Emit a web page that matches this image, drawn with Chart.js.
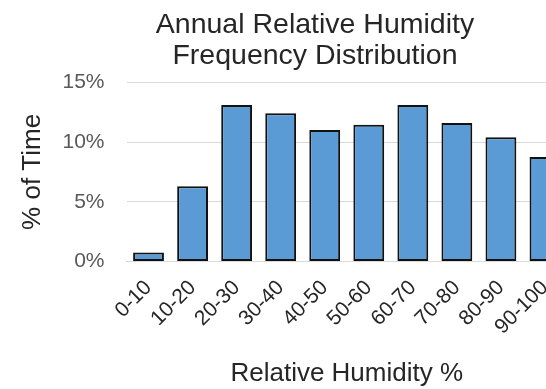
<!DOCTYPE html>
<html>
<head>
<meta charset="utf-8">
<script src="https://cdn.jsdelivr.net/npm/chart.js@4/dist/chart.umd.min.js"></script>
<style>
  html, body { margin: 0; padding: 0; background: #fff; overflow: hidden; }
  #wrap { width: 546px; height: 389px; overflow: hidden; }
</style>
</head>
<body>
<div id="wrap"><canvas id="myCanvas" width="630" height="389"></canvas></div>
<script>
const categories = ["0-10", "10-20", "20-30", "30-40", "40-50", "50-60", "60-70", "70-80", "80-90", "90-100"];
const timeShare = [0.75, 6.3, 13.1, 12.4, 11.0, 11.45, 13.1, 11.6, 10.4, 8.75];
const yTicks = [0, 5, 10, 15];

const font = "'Liberation Sans', Arial, sans-serif";

// the canvas is wider than the window, the right side is cut off like in the source image
new Chart(document.getElementById("myCanvas"), {
  type: "bar",
  data: {
    labels: categories,
    datasets: [
      {
        label: "% of Time",
        data: timeShare,
        backgroundColor: "#5b9bd5",
        borderColor: "#111",
        borderWidth: 2,
        borderSkipped: false,
        barPercentage: 0.7,
        categoryPercentage: 1,
      },
    ],
  },
  options: {
    responsive: false,
    animation: false,
    devicePixelRatio: 1,
    layout: { padding: { left: 63, right: 63, top: 0, bottom: 0 } },
    plugins: {
      legend: { display: false },
      tooltip: { enabled: false },
      title: {
        display: true,
        text: ["Annual Relative Humidity", "Frequency Distribution"],
        color: "#262626",
        font: { family: font, size: 28.5, weight: "normal", lineHeight: 1.11 },
        padding: { top: 9, bottom: 10 },
      },
    },
    scales: {
      x: {
        grid: { display: false, drawTicks: false },
        border: { display: true, color: "#d9d9d9", width: 1 },
        ticks: {
          color: "#262626",
          font: { family: font, size: 21 },
          minRotation: 45,
          maxRotation: 45,
          autoSkip: false,
          padding: 14,
        },
        title: {
          display: true,
          text: "Relative Humidity %",
          color: "#262626",
          font: { family: font, size: 26 },
          padding: { top: 0, bottom: 0 },
        },
        afterFit: (scale) => {
          scale.height = 127.5;
        },
      },
      y: {
        min: 0,
        max: 15,
        afterBuildTicks: (scale) => {
          scale.ticks = yTicks.map((v) => ({ value: v }));
        },
        grid: { color: "#d9d9d9", lineWidth: 1, drawTicks: false },
        border: { display: false },
        ticks: {
          color: "#595959",
          font: { family: font, size: 21 },
          padding: 22,
          callback: (v) => v + "%",
        },
        title: {
          display: true,
          text: "% of Time",
          color: "#262626",
          font: { family: font, size: 26 },
          padding: { top: -46, bottom: 0 },
        },
        afterFit: (scale) => {
          scale.width = 63.5;
        },
      },
    },
  },
});
</script>
</body>
</html>
